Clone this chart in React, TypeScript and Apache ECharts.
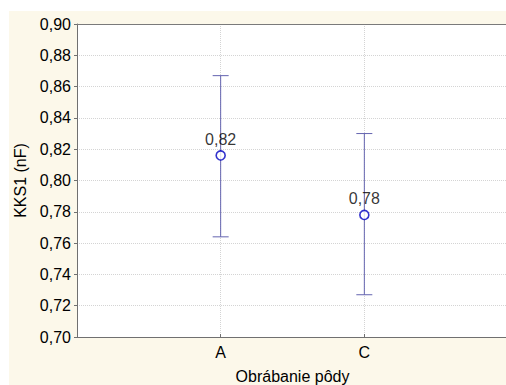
import React, { useEffect, useRef } from "react";
import * as echarts from "echarts";

const categories = ["A", "C"];
const means = [0.816, 0.778];
const upper = [0.867, 0.83];
const lower = [0.764, 0.727];
const yTicks = { min: 0.7, max: 0.9, interval: 0.02 };

const FONT = "'Liberation Sans', Arial, sans-serif";

export default function App() {
  const ref = useRef<HTMLDivElement>(null);
  useEffect(() => {
    if (!ref.current) return;
    const chart = echarts.init(ref.current, undefined, { renderer: "svg" });
    const xCats = ["", ...categories, ""];
    const fmt = (v: number) => v.toFixed(2).replace(".", ",");
    chart.setOption({
      animation: false,
      backgroundColor: "#fcf8ea",
      textStyle: { fontFamily: FONT },
      graphic: [
        { type: "rect", shape: { x: 0, y: 0, width: 530, height: 11 }, style: { fill: "#ffffff" }, silent: true },
        { type: "rect", shape: { x: 0, y: 0, width: 9, height: 385 }, style: { fill: "#ffffff" }, silent: true },
      ],
      grid: {
        left: 77,
        top: 24,
        width: 431,
        bottom: 48,
        containLabel: false,
        outerBoundsMode: "none",
        show: true,
        backgroundColor: "#ffffff",
        borderWidth: 0,
      },
      xAxis: [
        {
          type: "category",
          data: xCats,
          boundaryGap: false,
          name: "Obrábanie pôdy",
          nameLocation: "middle",
          nameGap: 31,
          nameTextStyle: { fontSize: 16, color: "#000", fontFamily: FONT },
          axisLine: { lineStyle: { color: "#707070", width: 1 } },
          axisTick: { show: true, inside: true, length: 3, lineStyle: { color: "#707070" } },
          axisLabel: { fontSize: 16, color: "#000", margin: 7, fontFamily: FONT },
          splitLine: { show: true, lineStyle: { color: "#d4d4d4", type: "dotted", width: 1 } },
        },
        {
          type: "category",
          data: xCats,
          boundaryGap: false,
          position: "top",
          axisLine: { show: true, lineStyle: { color: "#7a7a7a", width: 1 } },
          axisTick: { show: false },
          axisLabel: { show: false },
          splitLine: { show: false },
        },
      ],
      yAxis: {
        type: "value",
        min: yTicks.min,
        max: yTicks.max,
        interval: yTicks.interval,
        name: "KKS1 (nF)",
        nameLocation: "middle",
        nameGap: 49,
        nameTextStyle: { fontSize: 16, color: "#000", fontFamily: FONT },
        axisLine: { show: true, lineStyle: { color: "#707070", width: 1 } },
        axisTick: { show: true, length: 3, lineStyle: { color: "#707070" } },
        axisLabel: { fontSize: 16, color: "#000", margin: 6, fontFamily: FONT, formatter: fmt },
        splitLine: { show: true, lineStyle: { color: "#d4d4d4", type: "dotted", width: 1 } },
      },
      series: [
        {
          type: "custom",
          data: categories.map((c, i) => [xCats.indexOf(c), lower[i], upper[i]]),
          encode: { x: 0, y: [1, 2] },
          renderItem: (params: any, api: any) => {
            const x = api.value(0);
            const lo = api.coord([x, api.value(1)]);
            const hi = api.coord([x, api.value(2)]);
            const hw = 8;
            const style = { stroke: "#6464b0", lineWidth: 1 };
            return {
              type: "group",
              children: [
                { type: "line", shape: { x1: lo[0], y1: lo[1], x2: hi[0], y2: hi[1] }, style },
                { type: "line", shape: { x1: hi[0] - hw, y1: hi[1], x2: hi[0] + hw, y2: hi[1] }, style },
                { type: "line", shape: { x1: lo[0] - hw, y1: lo[1], x2: lo[0] + hw, y2: lo[1] }, style },
              ],
            };
          },
          z: 2,
        },
        {
          type: "scatter",
          data: categories.map((c, i) => [xCats.indexOf(c), means[i]]),
          symbol: "circle",
          symbolSize: 9,
          itemStyle: { color: "#ffffff", borderColor: "#0000c0", borderWidth: 1.6 },
          label: {
            show: true,
            position: "top",
            distance: 3,
            fontSize: 16,
            color: "#000",
            fontFamily: FONT,
            formatter: (p: any) => fmt(p.value[1]),
          },
          z: 3,
        },
      ],
    });
    return () => chart.dispose();
  }, []);
  return (
    <div style={{ position: "fixed", left: 0, top: 0, width: 506, height: 385, overflow: "hidden" }}>
      <div ref={ref} style={{ width: 530, height: 385 }} />
    </div>
  );
}
